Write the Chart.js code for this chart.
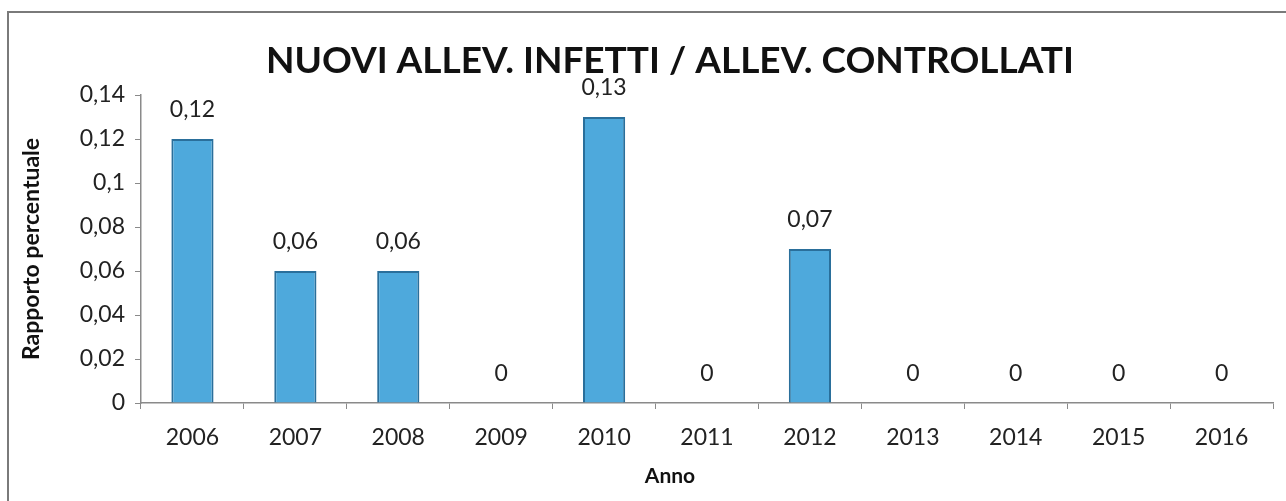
<!DOCTYPE html>
<html>
<head>
<meta charset="utf-8">
<script src="https://cdn.jsdelivr.net/npm/chart.js@4/dist/chart.umd.min.js"></script>
<style>
  html, body { margin: 0; padding: 0; background: #fff; overflow: hidden; }
  #wrap { position: relative; width: 1286px; height: 501px; }
  #frame { position: absolute; left: 7px; top: 11px; width: 1300px; height: 600px; border: 2px solid #7a7a7a; box-sizing: border-box; }
  canvas { position: absolute; left: 0; top: 0; }
</style>
</head>
<body>
<div id="wrap">
  <div id="frame"></div>
  <canvas id="chart" width="1286" height="501"></canvas>
</div>
<script>
// Data
const anni = ['2006', '2007', '2008', '2009', '2010', '2011', '2012', '2013', '2014', '2015', '2016'];
const rapporto = [0.12, 0.06, 0.06, 0, 0.13, 0, 0.07, 0, 0, 0, 0];
const yTicks = [0, 0.02, 0.04, 0.06, 0.08, 0.1, 0.12, 0.14];
const titolo = 'NUOVI ALLEV. INFETTI / ALLEV. CONTROLLATI';
const titoloX = 'Anno';

const FONT = 'Lato, "Open Sans", sans-serif';

// comma decimals like the original
function virgola(v) {
  return String(Math.round(v * 100) / 100).replace('.', ',');
}

// value above every bar (zeros too) + title and x-axis title (off-centre in the original)
const etichette = {
  id: 'etichette',
  afterDraw(chart) {
    const ctx = chart.ctx;
    const meta = chart.getDatasetMeta(0);
    ctx.save();
    ctx.font = '23px ' + FONT;
    ctx.fillStyle = '#222';
    ctx.textAlign = 'center';
    ctx.textBaseline = 'middle';
    meta.data.forEach((bar, i) => {
      ctx.fillText(virgola(rapporto[i]), bar.x, bar.y - 29);
    });

    ctx.fillStyle = '#111';
    ctx.font = 'bold 37px ' + FONT;
    ctx.fillText(titolo, 670, 61);
    ctx.font = 'bold 21px ' + FONT;
    ctx.fillText(titoloX, 670, 476);
    ctx.restore();
  }
};

const ctx = document.getElementById('chart');
const chart = new Chart(ctx, {
  type: 'bar',
  data: {
    labels: anni,
    datasets: [{
      label: 'Rapporto',
      data: rapporto,
      backgroundColor: '#4ea9dc',
      borderColor: '#2a6f9b',
      borderWidth: 2,
      barPercentage: 0.41,
      categoryPercentage: 1
    }]
  },
  options: {
    responsive: false,
    animation: false,
    layout: { padding: { left: 14, right: 13, top: 95, bottom: 10 } },
    plugins: {
      legend: { display: false },
      tooltip: { enabled: false },
      title: { display: false }
    },
    scales: {
      x: {
        offset: true,
        grid: { offset: true, drawOnChartArea: false, drawTicks: true, tickLength: 6, color: '#8a8a8a' },
        border: { color: '#8a8a8a', width: 1.5 },
        ticks: { color: '#222', font: { family: FONT, size: 23 }, padding: 15 },
        afterFit(scale) { scale.height = 88; }
      },
      y: {
        min: 0,
        max: 0.14,
        afterBuildTicks(scale) { scale.ticks = yTicks.map(v => ({ value: v })); },
        grid: { drawOnChartArea: false, drawTicks: true, tickLength: 6, color: '#8a8a8a' },
        border: { color: '#8a8a8a', width: 1.5 },
        ticks: { color: '#222', font: { family: FONT, size: 23 }, padding: 10, callback: v => virgola(v) },
        title: { display: true, text: 'Rapporto percentuale', color: '#111', font: { family: FONT, size: 23, weight: 'bold' }, padding: { bottom: 2 } },
        afterFit(scale) { scale.width = 127; }
      }
    }
  },
  plugins: [etichette]
});
</script>
</body>
</html>
